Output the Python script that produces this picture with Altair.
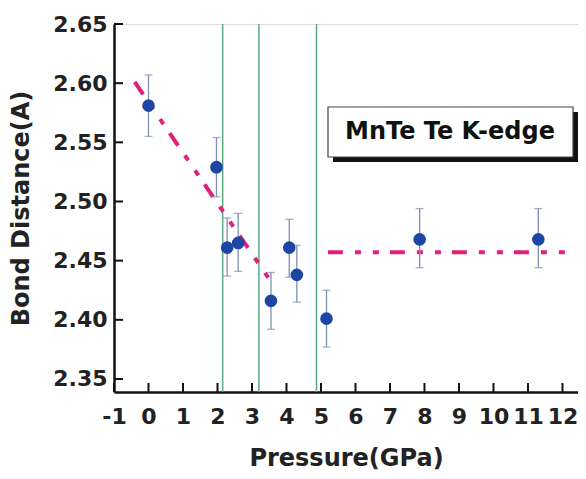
import altair as alt
import pandas as pd

# data
pressure = [0, 1.97, 2.28, 2.6, 3.55, 4.08, 4.3, 5.16, 7.86, 11.3]
distance = [2.581, 2.529, 2.461, 2.465, 2.416, 2.461, 2.438, 2.401, 2.468, 2.468]
err_low = [2.555, 2.504, 2.437, 2.441, 2.392, 2.436, 2.415, 2.377, 2.444, 2.444]
err_high = [2.607, 2.554, 2.486, 2.490, 2.440, 2.485, 2.463, 2.425, 2.494, 2.494]

fit_x = [-0.4, 3.58, 5.2, 12.13]
fit_y = [2.601, 2.431, 2.457, 2.457]
fit_seg = ["a", "a", "b", "b"]

phase_bounds = [2.15, 3.2, 4.87]

x_ticks = list(range(-1, 13))
y_ticks = [2.35, 2.40, 2.45, 2.50, 2.55, 2.60, 2.65]

label_text = "MnTe Te K-edge"

W, H = 464, 368
FONT = "DejaVu Sans"

pts = pd.DataFrame({"p": pressure, "d": distance, "lo": err_low, "hi": err_high})
fit = pd.DataFrame({"p": fit_x, "d": fit_y, "seg": fit_seg})
bounds = pd.DataFrame({"p": phase_bounds})
xt = pd.DataFrame({"p": x_ticks})
yt = pd.DataFrame({"d": y_ticks})
one = pd.DataFrame({"t": [label_text]})

xscale = alt.Scale(domain=[-1, 12.45], nice=False, zero=False)
yscale = alt.Scale(domain=[2.339, 2.65], nice=False, zero=False)

xaxis = alt.Axis(values=x_ticks, format="d", title="Pressure(GPa)", grid=False,
                 labelExpr="datum.value < 0 ? '-' + abs(datum.value) : '' + datum.value",
                 labelFont=FONT, labelFontWeight="bold", labelFontSize=22, labelColor="#222",
                 labelFlush=False, labelPadding=14, tickSize=0, domainColor="#111",
                 domainWidth=2.5, titleFont=FONT, titleFontWeight="bold", titleFontSize=24,
                 titleColor="#222", titlePadding=19)
yaxis = alt.Axis(values=y_ticks, format=".2f", title="Bond Distance(A)", grid=False,
                 labelFont=FONT, labelFontWeight="bold", labelFontSize=22, labelColor="#222",
                 labelPadding=7, tickSize=0, domainColor="#111", domainWidth=2.5,
                 titleFont=FONT, titleFontWeight="bold", titleFontSize=24, titleColor="#222",
                 titlePadding=19)

X = alt.X("p:Q", scale=xscale, axis=xaxis)
Y = alt.Y("d:Q", scale=yscale, axis=yaxis)

green = alt.Chart(bounds).mark_rule(color="#5aaa88", strokeWidth=1.5).encode(
    x=alt.X("p:Q", scale=xscale, axis=xaxis))

xtick = alt.Chart(xt).mark_rule(color="#111", strokeWidth=2).encode(
    x=alt.X("p:Q", scale=xscale, axis=xaxis), y=alt.value(H), y2=alt.value(H - 9))
ytick = alt.Chart(yt).mark_rule(color="#111", strokeWidth=2).encode(
    y=alt.Y("d:Q", scale=yscale, axis=yaxis), x=alt.value(0), x2=alt.value(9))

fitline = alt.Chart(fit).mark_line(color="#e0207a", strokeWidth=4,
                                   strokeDash=[15, 12, 6, 12, 6, 11]).encode(
    x=X, y=Y, detail="seg:N")

ebar = alt.Chart(pts).mark_rule(color="#7f8fb0", strokeWidth=1.3).encode(
    x=X, y=alt.Y("lo:Q", scale=yscale, axis=yaxis), y2="hi:Q")
cap_lo = alt.Chart(pts).mark_tick(color="#7f8fb0", orient="horizontal", size=8,
                                  thickness=1.3).encode(
    x=X, y=alt.Y("lo:Q", scale=yscale, axis=yaxis))
cap_hi = alt.Chart(pts).mark_tick(color="#7f8fb0", orient="horizontal", size=8,
                                  thickness=1.3).encode(
    x=X, y=alt.Y("hi:Q", scale=yscale, axis=yaxis))

dots = alt.Chart(pts).mark_circle(color="#1c45a6", opacity=1, size=160).encode(x=X, y=Y)

shadow = alt.Chart(one).mark_rect(color="#111").encode(
    x=alt.value(219), x2=alt.value(464), y=alt.value(88), y2=alt.value(138))
box = alt.Chart(one).mark_rect(fill="white", stroke="#444", strokeWidth=1.2).encode(
    x=alt.value(214), x2=alt.value(459), y=alt.value(83), y2=alt.value(133))
txt = alt.Chart(one).mark_text(font=FONT, fontWeight="bold", fontSize=24, color="#111",
                               align="center", baseline="middle").encode(
    x=alt.value(336), y=alt.value(108), text="t:N")

chart = alt.layer(green, fitline, ebar, cap_lo, cap_hi, dots, xtick, ytick, shadow, box, txt).properties(
    width=W, height=H,
    autosize=alt.AutoSizeParams(type="none"),
    padding={"left": 106, "top": 16, "right": 0, "bottom": 79},
).configure_view(stroke="#222", strokeWidth=1.5).configure(background="white")

chart.save("out.html", embed_options={"renderer": "svg", "actions": False})
